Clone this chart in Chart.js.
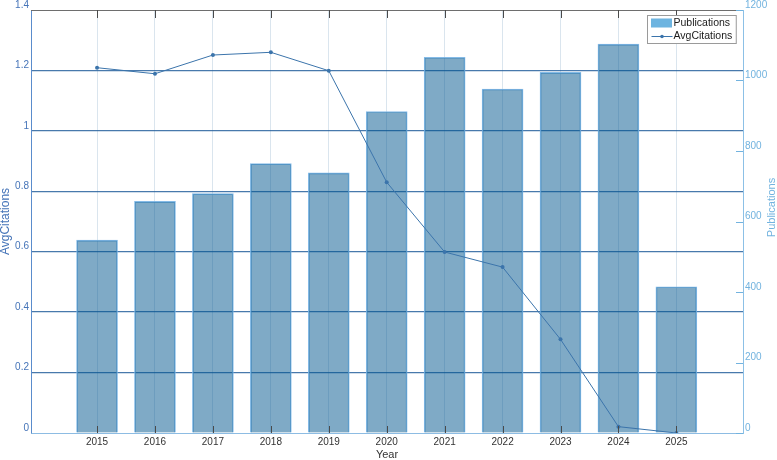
<!DOCTYPE html>
<html>
<head>
<meta charset="utf-8">
<script src="https://cdn.jsdelivr.net/npm/chart.js@4.4.1/dist/chart.umd.min.js"></script>
<style>
html,body{margin:0;padding:0;background:#fff;}
#wrap{position:relative;width:777px;height:460px;}
</style>
</head>
<body>
<div id="wrap"><canvas id="c" width="777" height="460"></canvas></div>
<script>
// ---- data ----
const years = [2015, 2016, 2017, 2018, 2019, 2020, 2021, 2022, 2023, 2024, 2025];
const publications = [547, 657, 679, 764, 738, 912, 1066, 976, 1023, 1103, 415];
const avgCitations = [1.209, 1.189, 1.251, 1.260, 1.199, 0.830, 0.599, 0.549, 0.310, 0.021, 0.0];
const leftTicks = [0, 0.2, 0.4, 0.6, 0.8, 1.0, 1.2, 1.4];
const rightTicks = [0, 200, 400, 600, 800, 1000, 1200];
const xTitle = 'Year';
const leftTitle = 'AvgCitations';
const rightTitle = 'Publications';
const barLabel = 'Publications';
const lineLabel = 'AvgCitations';

const FONT = "'Liberation Sans', Arial, Helvetica, sans-serif";
const LEFT_BLUE = '#4574b8';
const RIGHT_BLUE = '#72b3df';

const decor = {
  id: 'decor',
  afterDatasetsDraw(chart) {
    const {ctx, chartArea: a, scales} = chart;
    const x = scales.x, yR = scales.yR;
    ctx.save();
    ctx.lineWidth = 1;
    // top border
    ctx.strokeStyle = '#6e6e6e';
    ctx.beginPath();
    ctx.moveTo(a.left, a.top + 0.5);
    ctx.lineTo(a.right, a.top + 0.5);
    ctx.stroke();
    // x tick marks (inward, top and bottom)
    ctx.strokeStyle = '#4a4a4a';
    x.ticks.forEach(t => {
      const px = Math.round(x.getPixelForValue(t.value)) + 0.5;
      ctx.beginPath();
      ctx.moveTo(px, a.top); ctx.lineTo(px, a.top + 8);
      ctx.moveTo(px, a.bottom); ctx.lineTo(px, a.bottom - 7);
      ctx.stroke();
    });
    // right axis tick marks (inward)
    ctx.strokeStyle = RIGHT_BLUE;
    yR.ticks.forEach(t => {
      const py = Math.round(yR.getPixelForValue(t.value)) + 0.5;
      ctx.beginPath();
      ctx.moveTo(a.right - 7, py); ctx.lineTo(a.right, py);
      ctx.stroke();
    });
    ctx.restore();
  },
  afterDraw(chart) {
    const {ctx, chartArea: a} = chart;
    ctx.save();
    // right axis title, reading bottom-to-top
    ctx.fillStyle = RIGHT_BLUE;
    ctx.font = '11px ' + FONT;
    ctx.textAlign = 'center';
    ctx.textBaseline = 'middle';
    ctx.translate(772, (a.top + a.bottom) / 2 - 14);
    ctx.rotate(-Math.PI / 2);
    ctx.fillText(rightTitle, 0, 0);
    ctx.restore();

    // legend box inside plot, top-right
    ctx.save();
    ctx.font = '10.5px ' + FONT;
    const labels = [barLabel, lineLabel];
    const tw = Math.max(...labels.map(l => ctx.measureText(l).width));
    const bw = 4 + 21 + 2 + tw + 3;
    const bh = 28;
    const bx = Math.round(a.right - 7 - bw) + 0.5;
    const by = a.top + 5 + 0.5;
    ctx.fillStyle = '#fff';
    ctx.fillRect(bx, by, bw, bh);
    ctx.strokeStyle = '#9a9a9a';
    ctx.lineWidth = 1;
    ctx.strokeRect(bx, by, bw, bh);
    // bar entry
    ctx.fillStyle = '#6db4e0';
    ctx.fillRect(bx + 3.5, by + 3, 21, 9);
    ctx.fillStyle = '#1a1a1a';
    ctx.textBaseline = 'middle';
    ctx.textAlign = 'left';
    ctx.fillText(labels[0], bx + 26, by + 7.5);
    // line entry
    const ly = by + 21;
    ctx.strokeStyle = '#3b74ab';
    ctx.beginPath();
    ctx.moveTo(bx + 4, ly); ctx.lineTo(bx + 25, ly);
    ctx.stroke();
    ctx.fillStyle = '#3b74ab';
    ctx.beginPath();
    ctx.arc(bx + 14.5, ly, 1.8, 0, Math.PI * 2);
    ctx.fill();
    ctx.fillStyle = '#1a1a1a';
    ctx.fillText(labels[1], bx + 26, ly - 0.5);
    ctx.restore();
  }
};

const barData = years.map((y, i) => ({x: y, y: publications[i]}));
const lineData = years.map((y, i) => ({x: y, y: avgCitations[i]}));

new Chart(document.getElementById('c'), {
  type: 'bar',
  data: {
    datasets: [
      {
        type: 'bar',
        label: barLabel,
        data: barData,
        yAxisID: 'yR',
        backgroundColor: 'rgba(0, 86, 142, 0.5)',
        borderColor: 'rgba(120, 180, 228, 0.9)',
        borderWidth: 1,
        barThickness: 41,
        order: 1
      },
      {
        type: 'line',
        label: lineLabel,
        data: lineData,
        yAxisID: 'yL',
        borderColor: '#3b74ab',
        backgroundColor: '#3b74ab',
        borderWidth: 1,
        pointRadius: 2,
        pointBorderWidth: 0,
        tension: 0,
        order: 0
      }
    ]
  },
  options: {
    responsive: false,
    animation: false,
    layout: {padding: {top: 10, left: 0, right: 0, bottom: 0}},
    plugins: {legend: {display: false}, tooltip: {enabled: false}},
    scales: {
      x: {
        type: 'linear',
        position: 'bottom',
        min: 2013.86,
        max: 2026.15,
        offset: false,
        afterBuildTicks: s => { s.ticks = years.map(v => ({value: v})); },
        afterFit: s => { s.height = 27; },
        grid: {color: 'rgba(150, 180, 205, 0.35)', lineWidth: 1, drawTicks: false, offset: false},
        border: {color: '#8dbce3', width: 1},
        ticks: {color: '#333', font: {family: FONT, size: 10}, padding: 3, maxRotation: 0, autoSkip: false,
                callback: v => String(v)},
        title: {display: true, text: xTitle, color: '#333', font: {family: FONT, size: 11, lineHeight: 1}, padding: 0}
      },
      yL: {
        type: 'linear',
        position: 'left',
        min: 0,
        max: 1.4,
        afterBuildTicks: s => { s.ticks = leftTicks.map(v => ({value: v})); },
        afterFit: s => { s.width = 31; },
        grid: {
          color: ctx => (ctx.tick && (ctx.tick.value === 0 || ctx.tick.value === 1.4)) ? 'rgba(0,0,0,0)' : 'rgba(40, 98, 158, 0.85)',
          lineWidth: 1.3, drawTicks: false
        },
        border: {color: '#5a8ccc', width: 1},
        ticks: {color: LEFT_BLUE, font: {family: FONT, size: 10}, padding: 2, labelOffset: -5,
                callback: v => String(+Number(v).toFixed(1))},
        title: {display: true, text: leftTitle, color: LEFT_BLUE, font: {family: FONT, size: 12, lineHeight: 1}, padding: 0}
      },
      yR: {
        type: 'linear',
        position: 'right',
        min: 0,
        max: 1200,
        afterBuildTicks: s => { s.ticks = rightTicks.map(v => ({value: v})); },
        afterFit: s => { s.width = 34; },
        grid: {drawOnChartArea: false, drawTicks: false},
        border: {color: '#8cc0e6', width: 1},
        ticks: {color: RIGHT_BLUE, font: {family: FONT, size: 10}, padding: 2, labelOffset: -5,
                callback: v => String(v)},
        title: {display: false}
      }
    }
  },
  plugins: [decor]
});
</script>
</body>
</html>
